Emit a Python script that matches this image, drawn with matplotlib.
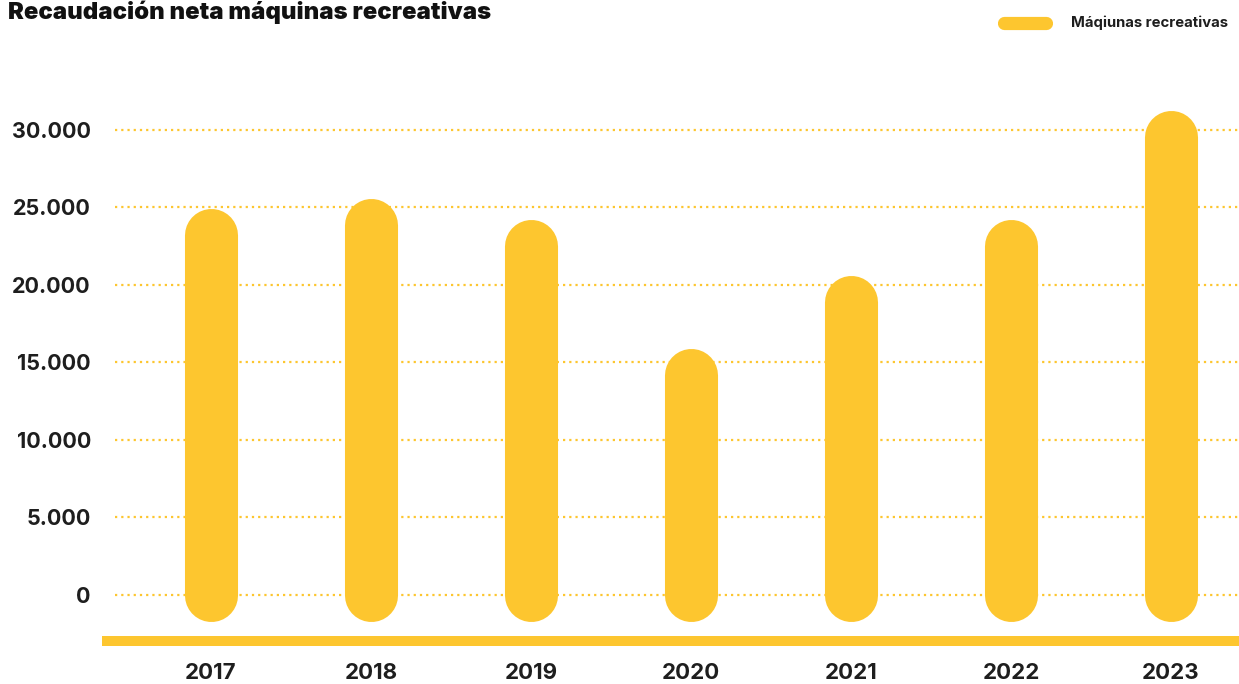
import numpy as np
import matplotlib
matplotlib.use("Agg")
import matplotlib.pyplot as plt
from matplotlib.lines import Line2D

years = ["2017", "2018", "2019", "2020", "2021", "2022", "2023"]
recaudacion = [23200, 23850, 22500, 14200, 18900, 22500, 29550]
y_ticks = [0, 5000, 10000, 15000, 20000, 25000, 30000]
y_tick_labels = ["0", "5.000", "10.000", "15.000", "20.000", "25.000", "30.000"]

YELLOW = "#FDC62F"
DARK = "#1E1E1E"

plt.rcParams['font.family'] = ['Inter', 'DejaVu Sans']

W, H = 1239, 684
fig = plt.figure(figsize=(W / 100, H / 100), dpi=100)
fig.patch.set_facecolor("white")

# axes from pixel x=102 to right edge, y=90 to 660
ax = fig.add_axes([102 / W, (H - 660) / H, 1 - 102 / W, 570 / H])
x = np.arange(len(years))
ax.set_xlim(-0.681, 6.425)
ax.set_ylim(-4231, 32590)

# dotted grid lines, starting a bit right of the axes edge
ax.hlines(y_ticks, -0.6, 6.425, colors=YELLOW, linewidth=1.6,
          linestyles=(0, (1, 1.8)), zorder=1)

# capsule bars
bars = ax.vlines(x, 0, recaudacion, colors=YELLOW, linewidth=38.2, zorder=2)
bars.set_capstyle("round")

# baseline band
ax.axhspan(-3330, -2680, color=YELLOW, lw=0, zorder=1)

for s in ax.spines.values():
    s.set_visible(False)
ax.set_yticks(y_ticks)
ax.set_yticklabels(y_tick_labels, fontsize=15.5, fontweight="bold", color=DARK)
ax.set_xticks(x)
ax.set_xticklabels(years, fontsize=16, fontweight="bold", color=DARK)
ax.tick_params(axis="y", length=0, pad=8)
ax.tick_params(axis="x", length=0, pad=2)

fig.text(8 / W, 1 - 12 / H, "Recaudación neta máquinas recreativas",
         fontsize=17.2, fontweight=900, color="#111111", va="center", ha="left")

# legend
fig.add_artist(Line2D([1004 / W, 1046 / W], [1 - 22.5 / H, 1 - 22.5 / H],
                      color=YELLOW, linewidth=9.5, solid_capstyle="round"))
fig.text(1071 / W, 1 - 23 / H, "Máqiunas recreativas", fontsize=10.7,
         fontweight="bold", color=DARK, va="center", ha="left")

fig.savefig("out.png", dpi=100)
